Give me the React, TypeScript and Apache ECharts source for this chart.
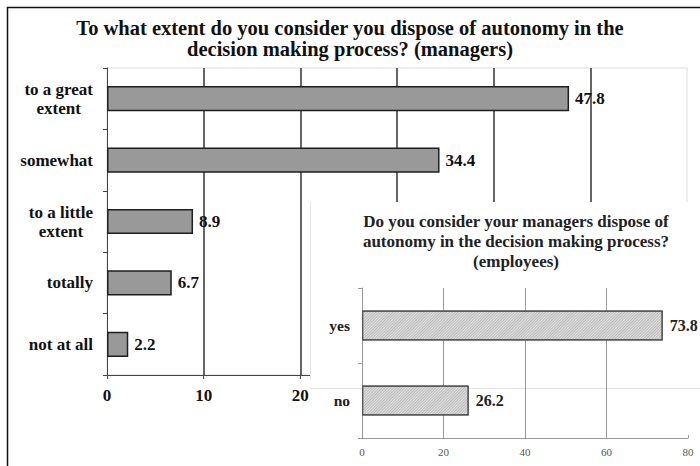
import React, { useEffect, useRef } from "react";
import * as echarts from "echarts";

const mainTitle = "To what extent do you consider you dispose of autonomy in the\ndecision making process? (managers)";
const mainCategories = ["to a great\nextent", "somewhat", "to a little\nextent", "totally", "not at all"];
const mainValues = [47.8, 34.4, 8.9, 6.7, 2.2];
const mainMax = 60;
const mainInterval = 10;
const mainVisibleTickMax = 20;

const insetTitle = "Do you consider your managers dispose of\nautonomy in the decision making process?\n(employees)";
const insetCategories = ["yes", "no"];
const insetValues = [73.8, 26.2];
const insetMax = 80;
const insetInterval = 20;

const SERIF = "'Liberation Serif', 'Times New Roman', Times, serif";

export default function App() {
  const ref = useRef<HTMLDivElement>(null);
  useEffect(() => {
    if (!ref.current) return;
    const chart = echarts.init(ref.current, null, { renderer: "svg" });
    const option: any = {
      animation: false,
      backgroundColor: "#ffffff",
      title: [
        {
          text: mainTitle,
          left: "center",
          top: 12,
          textStyle: {
            fontFamily: SERIF,
            fontWeight: "bold",
            fontSize: 20.5,
            lineHeight: 21,
            color: "#111",
          },
        },
        {
          text: insetTitle,
          left: 511,
          textAlign: "center",
          top: 206,
          z: 60,
          textStyle: {
            fontFamily: SERIF,
            fontWeight: "bold",
            fontSize: 17,
            lineHeight: 20,
            color: "#222",
          },
        },
      ],
      grid: [
        {
          left: 107,
          right: 13,
          top: 68,
          bottom: 91,
          show: true,
          borderColor: "#dcdcdc",
          borderWidth: 1,
          backgroundColor: "transparent",
        },
        {
          left: 362,
          right: 12,
          top: 288,
          bottom: 28,
          z: 60,
        },
      ],
      xAxis: [
        {
          type: "value",
          gridIndex: 0,
          min: 0,
          max: mainMax,
          interval: mainInterval,
          axisLine: { show: true, lineStyle: { color: "#444", width: 1 } },
          axisTick: { show: true, length: 4, lineStyle: { color: "#444" } },
          splitLine: {
            show: true,
            showMinLine: false,
            showMaxLine: false,
            lineStyle: { color: "#333", width: 1.5 },
          },
          axisLabel: {
            margin: 12,
            fontFamily: SERIF,
            fontWeight: "bold",
            fontSize: 17,
            color: "#111",
            formatter: (v: number) => (v <= mainVisibleTickMax ? String(v) : ""),
          },
        },
        {
          type: "value",
          gridIndex: 1,
          min: 0,
          max: insetMax,
          interval: insetInterval,
          z: 60,
          axisLine: { show: true, lineStyle: { color: "#999", width: 1 } },
          axisTick: { show: true, inside: true, length: 3, lineStyle: { color: "#999" } },
          splitLine: {
            show: true,
            showMinLine: false,
            showMaxLine: false,
            lineStyle: { color: "#999", width: 1 },
          },
          axisLabel: {
            margin: 8,
            fontFamily: SERIF,
            fontSize: 11,
            color: "#555",
          },
        },
      ],
      yAxis: [
        {
          type: "category",
          gridIndex: 0,
          data: mainCategories,
          inverse: true,
          axisLine: { show: true, lineStyle: { color: "#444", width: 1 } },
          axisTick: { show: true, length: 4, lineStyle: { color: "#444" } },
          axisLabel: {
            margin: 14,
            align: "right",
            fontFamily: SERIF,
            fontWeight: "bold",
            fontSize: 17,
            lineHeight: 19,
            color: "#111",
            formatter: (v: string) =>
              v
                .split("\n")
                .map((l) => `{c|${l}}`)
                .join("\n"),
            rich: {
              c: {
                align: "center",
                fontFamily: SERIF,
                fontWeight: "bold",
                fontSize: 17,
                lineHeight: 19,
                color: "#111",
              },
            },
          },
        },
        {
          type: "category",
          gridIndex: 1,
          data: insetCategories,
          inverse: true,
          z: 60,
          axisLine: { show: true, lineStyle: { color: "#999", width: 1 } },
          axisTick: { show: true, length: 4, lineStyle: { color: "#999" } },
          axisLabel: {
            margin: 12,
            fontFamily: SERIF,
            fontWeight: "bold",
            fontSize: 15.5,
            color: "#222",
          },
        },
      ],
      series: [
        {
          type: "bar",
          xAxisIndex: 0,
          yAxisIndex: 0,
          data: mainValues,
          barCategoryGap: "59%",
          z: 2,
          itemStyle: {
            color: "#999999",
            borderColor: "#1e1e1e",
            borderWidth: 1.5,
          },
          label: {
            show: true,
            position: "right",
            distance: 6,
            fontFamily: SERIF,
            fontWeight: "bold",
            fontSize: 17,
            color: "#111",
          },
        },
        {
          type: "bar",
          xAxisIndex: 1,
          yAxisIndex: 1,
          data: insetValues,
          barCategoryGap: "60%",
          z: 60,
          itemStyle: {
            color: "#e2e2e2",
            borderColor: "#555",
            borderWidth: 1.2,
            decal: {
              symbol: "rect",
              symbolSize: 1,
              color: "rgba(0,0,0,0.18)",
              dashArrayX: [1, 0],
              dashArrayY: [1, 1],
              rotation: -Math.PI / 4,
            },
          },
          label: {
            show: true,
            position: "right",
            distance: 7,
            fontFamily: SERIF,
            fontWeight: "bold",
            fontSize: 16,
            color: "#222",
          },
        },
      ],
      graphic: [
        {
          type: "rect",
          z: 50,
          shape: { x: 310, y: 202, width: 390, height: 264 },
          style: { fill: "#ffffff" },
        },
        {
          type: "line",
          z: 51,
          shape: { x1: 310.5, y1: 202, x2: 310.5, y2: 380 },
          style: { stroke: "#e6e6e6", lineWidth: 1 },
        },
        {
          type: "line",
          z: 51,
          shape: { x1: 310, y1: 388.5, x2: 700, y2: 388.5 },
          style: { stroke: "#e2e2e2", lineWidth: 1 },
        },
        {
          type: "polyline",
          z: 100,
          shape: { points: [[7.5, 466], [7.5, 7.5], [700, 7.5]] },
          style: { stroke: "#111", lineWidth: 1.5, fill: null },
        },
      ],
    };
    chart.setOption(option);
    return () => chart.dispose();
  }, []);
  return <div ref={ref} style={{ width: 700, height: 466, position: "absolute", left: 0, top: 0 }} />;
}
